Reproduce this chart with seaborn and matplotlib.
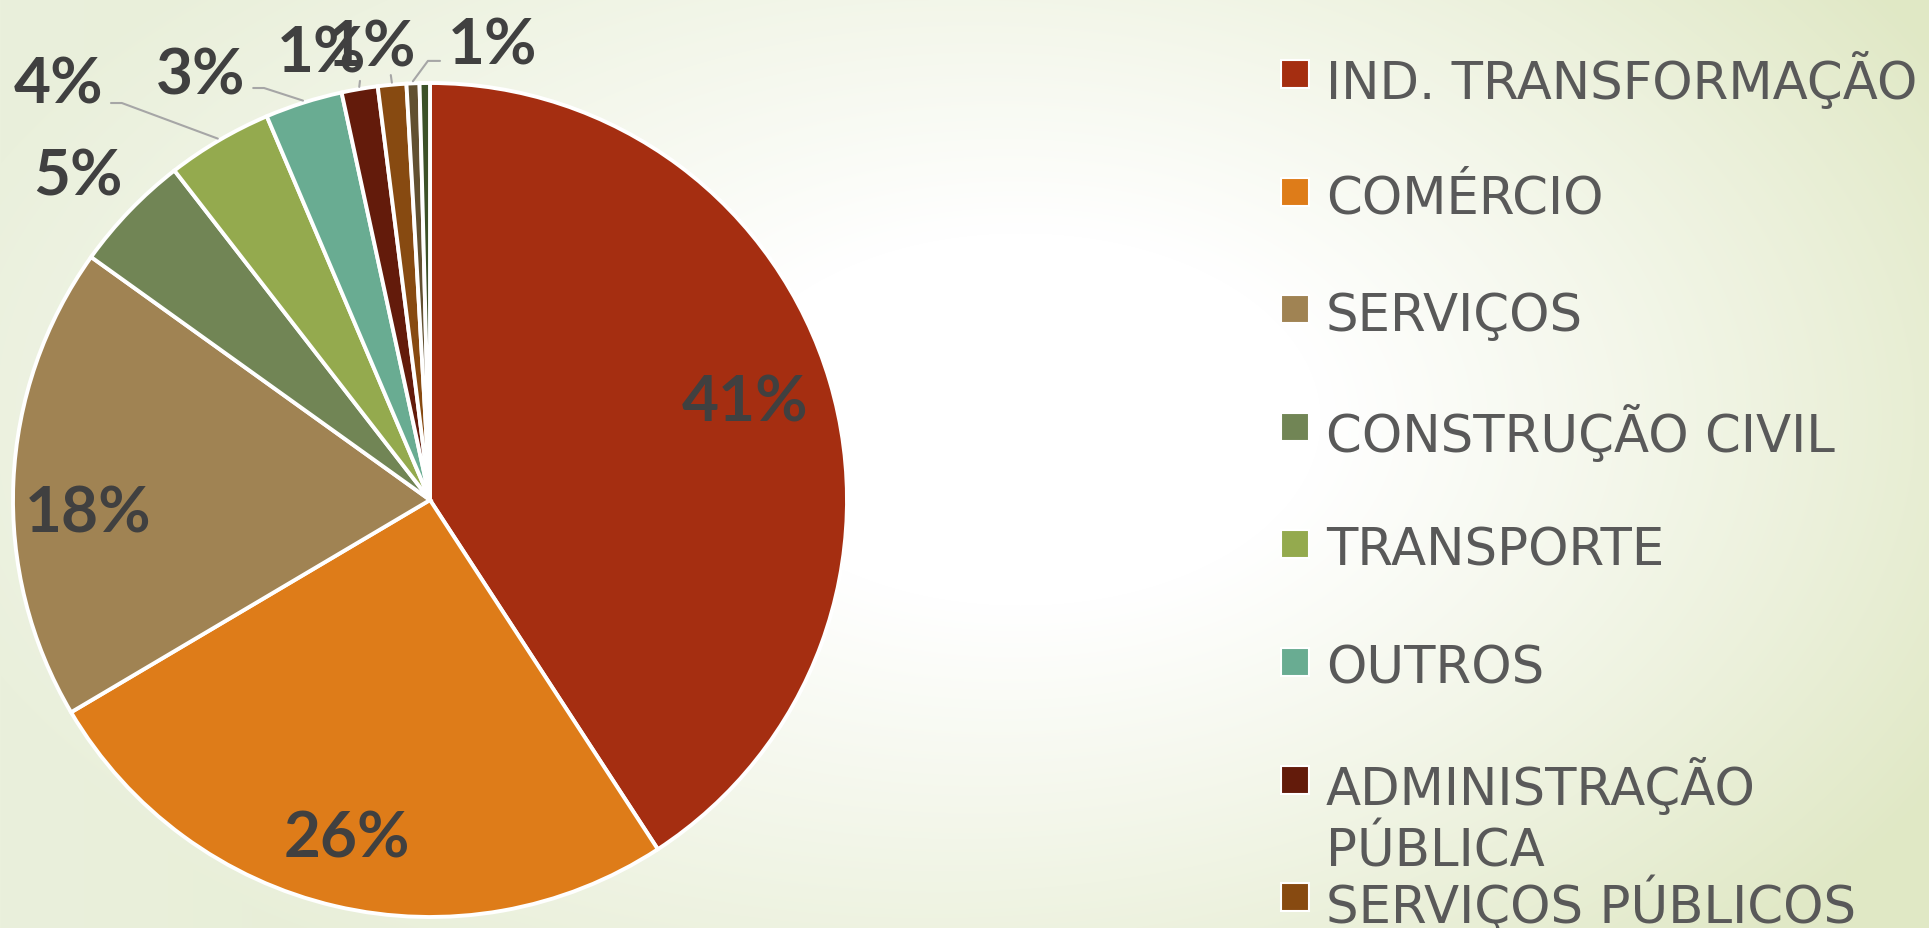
import matplotlib
matplotlib.use("Agg")
import matplotlib.pyplot as plt
import numpy as np
import seaborn as sns
from matplotlib.patches import Rectangle

# dados (participacao por setor, %)
setores = ["IND. TRANSFORMAÇÃO", "COMÉRCIO", "SERVIÇOS", "CONSTRUÇÃO CIVIL",
           "TRANSPORTE", "OUTROS", "ADMINISTRAÇÃO\nPÚBLICA", "SERVIÇOS PÚBLICOS",
           "", ""]  # as duas ultimas entradas da legenda ficam cortadas
valores = [40.8, 25.7, 18.4, 4.6, 4.1, 3.0, 1.4, 1.1, 0.5, 0.4]
rotulos = ["41%", "26%", "18%", "5%", "4%", "3%", "1%", "1%", "1%", ""]
cores = ["#a52e11", "#de7c19", "#a08353", "#718555", "#94aa4e",
         "#69ac92", "#631b0b", "#874a11", "#615030", "#3c5128"]

sns.set_theme(style="white")
plt.rcParams["font.family"] = ["DejaVu Sans"]

W, H = 1929, 929
fig = plt.figure(figsize=(W / 100, H / 100), dpi=100)

# fundo em degrade (branco no centro, verde claro nas bordas)
yy, xx = np.mgrid[0:H, 0:W]
d = np.sqrt(((xx - 1020) / 1000) ** 2 + ((yy - 420) / 620) ** 2)
t = np.clip((d - 0.3) / 0.8, 0, 1)[..., None]
c_esq = np.array([0xea, 0xf0, 0xdc]) / 255
c_dir = np.array([0xe0, 0xe8, 0xc5]) / 255
borda = c_esq + (c_dir - c_esq) * (xx / W)[..., None]
img = (1 - t) + borda * t
bg = fig.add_axes([0, 0, 1, 1])
bg.imshow(img, extent=[0, 1, 0, 1], aspect="auto")
bg.axis("off")

# pizza
ax = fig.add_axes([13 / W, 11 / H, 834 / W, 834 / H])
pal = sns.color_palette(cores)
wedges, _ = ax.pie(valores, colors=pal, startangle=90, counterclock=False, radius=1,
                   wedgeprops=dict(edgecolor="white", linewidth=2.8))
ax.set_xlim(-1, 1)
ax.set_ylim(-1, 1)
ax.set_aspect("equal")
ax.axis("off")

lab_kw = dict(family=["Lato", "DejaVu Sans"], fontweight="bold", fontsize=46,
              color="#404040", ha="center", va="center", clip_on=False)
lead_kw = dict(color="#a6a6a6", lw=1.5, clip_on=False)

# posicao de cada rotulo (coords do eixo) e cotovelo da linha guia
pos_rotulo = {0: ((0.755, 0.235), None),
              1: ((-0.200, -0.810), None),
              2: ((-0.820, -0.030), None),
              3: ((-0.844, 0.777), None),
              4: ((-0.890, 0.998), (-0.739, 0.952, -0.765)),
              5: ((-0.549, 1.019), (-0.398, 0.988, -0.424)),
              6: ((-0.261, 1.071), (-0.168, 1.005, None)),
              7: ((-0.141, 1.086), (-0.094, 1.019, None)),
              8: ((0.149, 1.091), (-0.005, 1.053, 0.024))}

for i, w in enumerate(wedges):
    if not rotulos[i]:
        continue
    ang = np.deg2rad((w.theta1 + w.theta2) / 2)
    (lx, ly), guia = pos_rotulo[i]
    if guia is not None:
        ex, ey, hx = guia
        x0, y0 = np.cos(ang) * 1.005, np.sin(ang) * 1.005
        xs, ys = [x0, ex], [y0, ey]
        if hx is not None:
            xs.append(hx)
            ys.append(ey)
        ax.plot(xs, ys, **lead_kw)
    ax.text(lx, ly, rotulos[i], **lab_kw)

# legenda manual (entradas com espacamento fixo, como no original)
y0_px, passo = 76, 117.6
for i, (nome, cor) in enumerate(zip(setores, pal)):
    if not nome:
        continue
    yc = y0_px + i * passo
    fig.patches.append(Rectangle(((1283 - 2) / W, 1 - (yc + 13) / H), 28 / W, 28 / H,
                                 transform=fig.transFigure, facecolor=cor,
                                 edgecolor="white", linewidth=1.5))
    linhas = nome.split("\n")
    for k, ln in enumerate(linhas):
        fig.text(1326 / W, 1 - (yc + k * 65) / H, ln, fontsize=37, color="#595959",
                 ha="left", va="center_baseline")

fig.savefig("out.png", dpi=100)
